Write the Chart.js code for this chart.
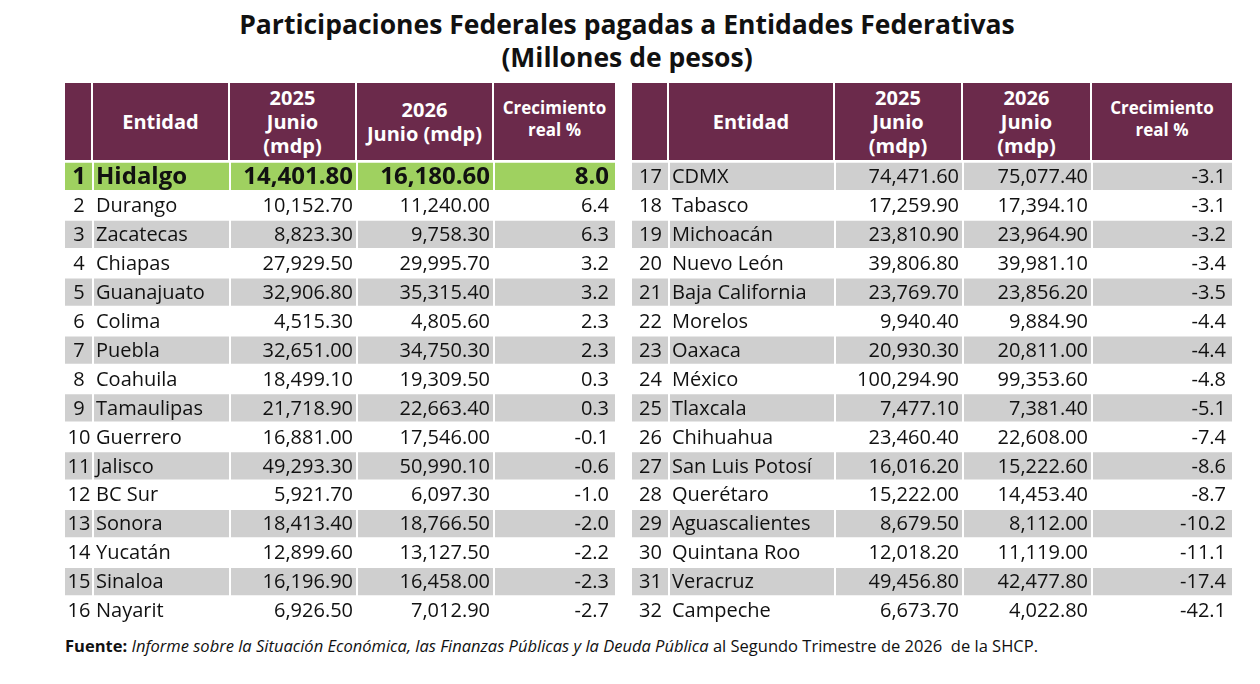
<!DOCTYPE html>
<html>
<head>
<meta charset="utf-8">
<script src="https://cdn.jsdelivr.net/npm/chart.js@4"></script>
<style>
  body { margin:0; width:1260px; height:684px; background:#fff; font-family:"Open Sans", Lato, sans-serif; position:relative; overflow:hidden; }
  .title { position:absolute; left:0; width:1254px; top:8px; text-align:center; font-weight:bold; font-size:26.5px; line-height:33px; color:#111; }
  .hdr { position:absolute; top:83px; height:77px; background:#6b2a4b; color:#fff; font-weight:bold; display:flex; align-items:center; justify-content:center; text-align:center; font-size:20px; line-height:24px; box-sizing:border-box; border-right:2px solid #fff; }
  .small { font-size:17px; line-height:22px; }
  .box { position:absolute; top:162px; height:463px; }
  .note { position:absolute; left:65px; top:634px; font-size:16.5px; color:#111; }
</style>
</head>
<body>
<div class="title">Participaciones Federales pagadas a Entidades Federativas<br>(Millones de pesos)</div>

<div class="hdr" style="left:65px;width:28px"></div>
<div class="hdr" style="left:93px;width:137px">Entidad</div>
<div class="hdr" style="left:230px;width:127px">2025<br>Junio<br>(mdp)</div>
<div class="hdr" style="left:357px;width:137px">2026<br>Junio (mdp)</div>
<div class="hdr small" style="left:494px;width:121px;align-items:flex-start;padding-top:14px;border-right:none">Crecimiento<br>real %</div>

<div class="hdr" style="left:632px;width:37px"></div>
<div class="hdr" style="left:669px;width:166px">Entidad</div>
<div class="hdr" style="left:835px;width:128px">2025<br>Junio<br>(mdp)</div>
<div class="hdr" style="left:963px;width:129px">2026<br>Junio<br>(mdp)</div>
<div class="hdr small" style="left:1092px;width:140px;align-items:flex-start;padding-top:14px;border-right:none">Crecimiento<br>real %</div>

<div class="box" style="left:65px;width:550px"><canvas id="left"></canvas></div>
<div class="box" style="left:632px;width:600px"><canvas id="right"></canvas></div>

<div class="note"><b>Fuente:</b> <i>Informe sobre la Situación Económica, las Finanzas Públicas y la Deuda Pública</i> al Segundo Trimestre de 2026&nbsp; de la SHCP.</div>

<script>
const ranks = [1,2,3,4,5,6,7,8,9,10,11,12,13,14,15,16,17,18,19,20,21,22,23,24,25,26,27,28,29,30,31,32];
const states = ['Hidalgo','Durango','Zacatecas','Chiapas','Guanajuato','Colima','Puebla','Coahuila','Tamaulipas','Guerrero','Jalisco','BC Sur','Sonora','Yucatán','Sinaloa','Nayarit',
  'CDMX','Tabasco','Michoacán','Nuevo León','Baja California','Morelos','Oaxaca','México','Tlaxcala','Chihuahua','San Luis Potosí','Querétaro','Aguascalientes','Quintana Roo','Veracruz','Campeche'];
const junio2025 = [14401.8,10152.7,8823.3,27929.5,32906.8,4515.3,32651.0,18499.1,21718.9,16881.0,49293.3,5921.7,18413.4,12899.6,16196.9,6926.5,
  74471.6,17259.9,23810.9,39806.8,23769.7,9940.4,20930.3,100294.9,7477.1,23460.4,16016.2,15222.0,8679.5,12018.2,49456.8,6673.7];
const junio2026 = [16180.6,11240.0,9758.3,29995.7,35315.4,4805.6,34750.3,19309.5,22663.4,17546.0,50990.1,6097.3,18766.5,13127.5,16458.0,7012.9,
  75077.4,17394.1,23964.9,39981.1,23856.2,9884.9,20811.0,99353.6,7381.4,22608.0,15222.6,14453.4,8112.0,11119.0,42477.8,4022.8];
const growth = [8.0,6.4,6.3,3.2,3.2,2.3,2.3,0.3,0.3,-0.1,-0.6,-1.0,-2.0,-2.2,-2.3,-2.7,
  -3.1,-3.1,-3.2,-3.4,-3.5,-4.4,-4.4,-4.8,-5.1,-7.4,-8.6,-8.7,-10.2,-11.1,-17.4,-42.1];

const fmt = v => v.toLocaleString('en-US', {minimumFractionDigits:2, maximumFractionDigits:2});

function makeTable(id, start, cols, highlightFirst) {
  const idx = ranks.slice(start, start + 16).map((r, i) => start + i);
  const width = cols[cols.length - 1];
  const colors = idx.map((k, i) => (highlightFirst && i === 0) ? '#9fd160' : (i % 2 === 0 ? '#cfcfcf' : 'rgba(0,0,0,0)'));
  const textPlugin = {
    id: 'cells',
    afterDatasetsDraw(chart) {
      const ctx = chart.ctx, x = chart.scales.x, y = chart.scales.y;
      ctx.save();
      ctx.strokeStyle = '#fff'; ctx.lineWidth = 2;
      cols.slice(1, -1).forEach(c => {
        ctx.beginPath(); ctx.moveTo(x.getPixelForValue(c), chart.chartArea.top);
        ctx.lineTo(x.getPixelForValue(c), chart.chartArea.bottom); ctx.stroke();
      });
      ctx.fillStyle = '#111'; ctx.textBaseline = 'middle';
      idx.forEach((k, i) => {
        const py = y.getPixelForValue(i) + 1;
        const bold = highlightFirst && i === 0;
        ctx.font = (bold ? 'bold 24px' : '20px') + ' "Open Sans", Lato, sans-serif';
        ctx.textAlign = 'center';
        ctx.fillText(String(ranks[k]), x.getPixelForValue((cols[0] + cols[1]) / 2), py);
        ctx.textAlign = 'left';
        ctx.fillText(states[k], x.getPixelForValue(cols[1]) + 3, py);
        ctx.textAlign = 'right';
        ctx.fillText(fmt(junio2025[k]), x.getPixelForValue(cols[3]) - 4, py);
        ctx.fillText(fmt(junio2026[k]), x.getPixelForValue(cols[4]) - 4, py);
        ctx.fillText(growth[k].toFixed(1), x.getPixelForValue(cols[5]) - 6, py);
      });
      ctx.restore();
    }
  };
  new Chart(document.getElementById(id), {
    type: 'bar',
    data: {
      labels: idx.map(k => states[k]),
      datasets: [{
        data: idx.map(() => [0, width]),
        backgroundColor: colors,
        barPercentage: 1,
        categoryPercentage: 0.94
      }]
    },
    options: {
      indexAxis: 'y',
      responsive: true,
      maintainAspectRatio: false,
      animation: false,
      layout: { padding: 0 },
      plugins: { legend: { display: false }, tooltip: { enabled: false } },
      scales: {
        x: { display: false, min: 0, max: width },
        y: { display: false, offset: true }
      }
    },
    plugins: [textPlugin]
  });
}

makeTable('left', 0, [0, 28, 165, 292, 429, 550], true);
makeTable('right', 16, [0, 37, 203, 331, 460, 600], false);
</script>
</body>
</html>
